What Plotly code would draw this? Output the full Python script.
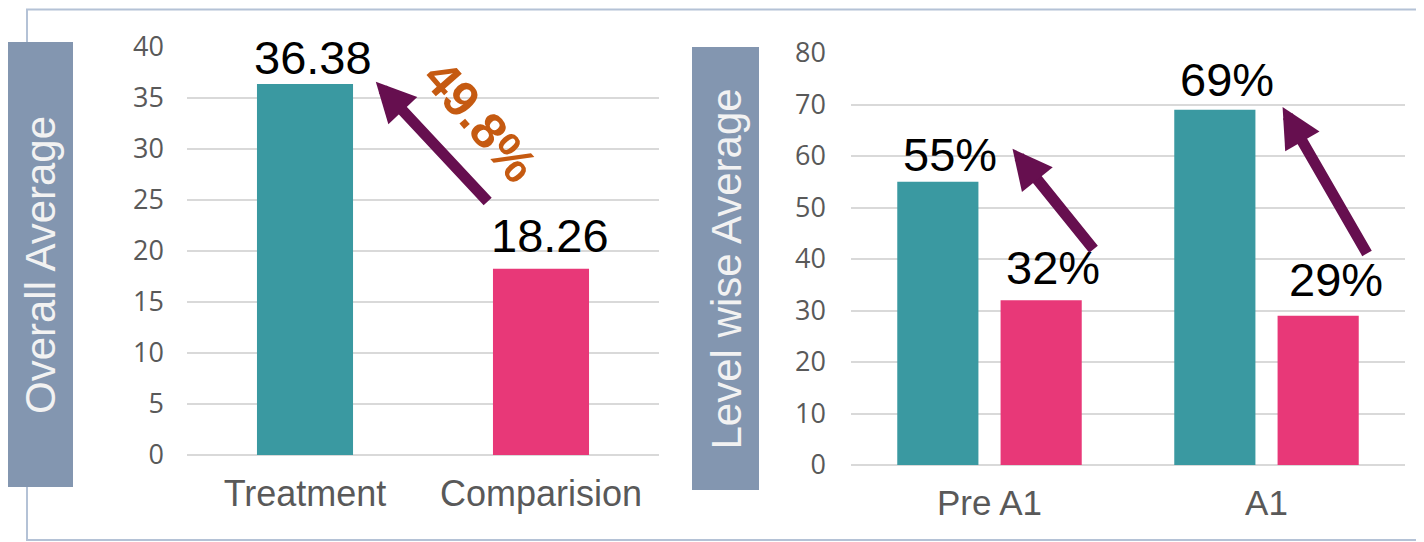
import plotly.graph_objects as go

# ---- data ----
overall_categories = ["Treatment", "Comparision"]
overall_values = [36.38, 18.26]
overall_labels = ["36.38", "18.26"]

level_categories = ["Pre A1", "A1"]
level_treatment = [55, 69]
level_comparison = [32, 29]

overall_change_label = "49.8%"
left_y_title = "Overall Average"
right_y_title = "Level wise Average"

# ---- styles ----
TEAL = "#3A99A1"
PINK = "#E83878"
PURPLE = "#660F4F"
ORANGE = "#C55A11"
BOX = "#8396B0"
GRID = "#D9D9D9"
TICK = "#595959"
LABEL_FONT = dict(family="Liberation Sans", size=47, color="black")

# hand-placed label nudges (px) as in the original slide
overall_label_shift = [(8, -2), (8.5, 5)]
treat_label_shift = [(12.5, -1), (12.5, 2)]
comp_label_shift = [(11.5, 4), (17.5, 8)]

# page body has an 8px margin; size the figure to fit the 1424x542 window
OFF = 8
W, H = 1424 - OFF, 542 - OFF

def px_x(p):
    return (p - OFF) / W

def px_y(p):
    return 1 - (p - OFF) / H

LEFT_W = 0.407
RIGHT_W = 0.293
TEAL_OFF = -0.333
PINK_OFF = 0.040

fig = go.Figure()

fig.add_trace(go.Bar(
    x=overall_categories, y=overall_values,
    marker=dict(color=[TEAL, PINK], line=dict(width=0)),
    width=LEFT_W, xaxis="x", yaxis="y", showlegend=False,
))
fig.add_trace(go.Bar(
    x=level_categories, y=level_treatment,
    marker=dict(color=TEAL, line=dict(width=0)),
    width=RIGHT_W, offset=TEAL_OFF, xaxis="x2", yaxis="y2", showlegend=False,
))
fig.add_trace(go.Bar(
    x=level_categories, y=level_comparison,
    marker=dict(color=PINK, line=dict(width=0)),
    width=RIGHT_W, offset=PINK_OFF, xaxis="x2", yaxis="y2", showlegend=False,
))

shapes = [
    dict(type="rect", xref="paper", yref="paper",
         x0=px_x(27), x1=1.01, y0=px_y(540), y1=px_y(9.5),
         line=dict(color="#B4C2D6", width=2), fillcolor="rgba(0,0,0,0)", layer="below"),
    dict(type="rect", xref="paper", yref="paper",
         x0=px_x(7), x1=px_x(73), y0=px_y(487), y1=px_y(42),
         line=dict(width=0), fillcolor=BOX, layer="above"),
    dict(type="rect", xref="paper", yref="paper",
         x0=px_x(692), x1=px_x(759), y0=px_y(490), y1=px_y(47),
         line=dict(width=0), fillcolor=BOX, layer="above"),
]

annotations = [
    dict(text=left_y_title, xref="paper", yref="paper", x=px_x(40), y=px_y(265),
         showarrow=False, textangle=-90, xanchor="center", yanchor="middle",
         font=dict(family="Liberation Sans", size=42, color="#F2F2F2")),
    dict(text=right_y_title, xref="paper", yref="paper", x=px_x(725.5), y=px_y(269),
         showarrow=False, textangle=-90, xanchor="center", yanchor="middle",
         font=dict(family="Liberation Sans", size=42, color="#F2F2F2")),
    dict(text="<b>" + overall_change_label + "</b>", xref="x", yref="y", x=0.74, y=32.7,
         showarrow=False, textangle=49, xanchor="center", yanchor="middle",
         font=dict(family="Liberation Sans", size=50, color=ORANGE)),
]

# value labels
for i, (lab, v) in enumerate(zip(overall_labels, overall_values)):
    dx, dy = overall_label_shift[i]
    annotations.append(dict(text=lab, xref="x", yref="y", x=i, y=v,
                            xanchor="center", yanchor="bottom", showarrow=False,
                            xshift=dx, yshift=dy, font=LABEL_FONT))
for i, v in enumerate(level_treatment):
    dx, dy = treat_label_shift[i]
    annotations.append(dict(text=f"{v}%", xref="x2", yref="y2", x=i + TEAL_OFF + RIGHT_W / 2, y=v,
                            xanchor="center", yanchor="bottom", showarrow=False,
                            xshift=dx, yshift=dy, font=LABEL_FONT))
for i, v in enumerate(level_comparison):
    dx, dy = comp_label_shift[i]
    annotations.append(dict(text=f"{v}%", xref="x2", yref="y2", x=i + PINK_OFF + RIGHT_W / 2, y=v,
                            xanchor="center", yanchor="bottom", showarrow=False,
                            xshift=dx, yshift=dy, font=LABEL_FONT))

arrow_style = dict(text="", showarrow=True, arrowhead=2, arrowwidth=11, arrowsize=0.72,
                   arrowcolor=PURPLE, standoff=0)
annotations.append(dict(xref="x", yref="y", axref="x", ayref="y",
                        x=0.30, y=36.6, ax=0.78, ay=24.7, **arrow_style))
annotations.append(dict(xref="x2", yref="y2", axref="x2", ayref="y2",
                        x=0.083, y=61.4, ax=0.38, ay=41.6, **arrow_style))
annotations.append(dict(xref="x2", yref="y2", axref="x2", ayref="y2",
                        x=1.058, y=69.5, ax=1.366, ay=40.8, **arrow_style))

fig.update_layout(
    width=W, height=H,
    margin=dict(l=0, r=0, t=0, b=0, autoexpand=False),
    paper_bgcolor="white", plot_bgcolor="white",
    barmode="group",
    shapes=shapes, annotations=annotations,
    xaxis=dict(domain=[px_x(187), px_x(659)], anchor="y", type="category",
               showgrid=False, showline=False, zeroline=False, ticks="",
               tickfont=dict(family="Liberation Sans", size=36, color=TICK),
               ticklabelstandoff=14, automargin=False),
    yaxis=dict(domain=[px_y(455), px_y(47)], anchor="x", range=[0, 40], dtick=5,
               showgrid=True, gridcolor=GRID, gridwidth=1.5,
               zeroline=True, zerolinecolor=GRID, zerolinewidth=2,
               showline=False, ticks="",
               tickfont=dict(family="Open Sans", size=27, color=TICK),
               ticklabelstandoff=22, automargin=False),
    xaxis2=dict(domain=[px_x(851), px_x(1405)], anchor="y2", type="category",
                showgrid=False, showline=False, zeroline=False, ticks="",
                tickfont=dict(family="Liberation Sans", size=35, color=TICK),
                ticklabelstandoff=14, automargin=False),
    yaxis2=dict(domain=[px_y(465), px_y(53)], anchor="x2", range=[0, 80], dtick=10,
                showgrid=True, gridcolor=GRID, gridwidth=1.5,
                zeroline=True, zerolinecolor=GRID, zerolinewidth=2,
                showline=False, ticks="",
                tickfont=dict(family="Open Sans", size=27, color=TICK),
                ticklabelstandoff=24, automargin=False),
)

fig.write_html("out.html")
